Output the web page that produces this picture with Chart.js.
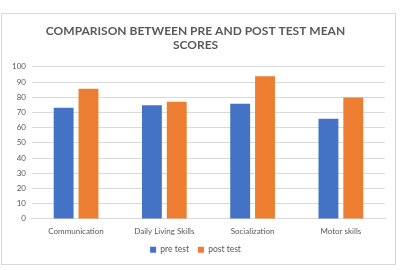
<!DOCTYPE html>
<html>
<head>
<meta charset="utf-8">
<script src="https://cdn.jsdelivr.net/npm/chart.js@4"></script>
<style>
  html, body { margin: 0; padding: 0; background: #fff; }
  #box { position: absolute; left: 1px; top: 13px; width: 393px; height: 250px; border: 1px solid #d9d9d9; }
</style>
</head>
<body>
<div id="box"><canvas id="chart"></canvas></div>
<script>
const categories = ['Communication', 'Daily Living Skills', 'Socialization', 'Motor skills'];
const preTest = [73, 74.8, 75.7, 65.8];
const postTest = [85.5, 77, 93.8, 79.8];

const ctx = document.getElementById('chart').getContext('2d');
new Chart(ctx, {
  type: 'bar',
  data: {
    labels: categories,
    datasets: [
      { label: 'pre test', data: preTest, backgroundColor: '#4472C4', categoryPercentage: 0.563, barPercentage: 0.8 },
      { label: 'post test', data: postTest, backgroundColor: '#ED7D31', categoryPercentage: 0.563, barPercentage: 0.8 }
    ]
  },
  options: {
    responsive: true,
    maintainAspectRatio: false,
    animation: false,
    layout: { padding: { left: 4, right: 10, top: 6, bottom: 0 } },
    plugins: {
      title: {
        display: true,
        text: ['COMPARISON BETWEEN PRE AND POST TEST MEAN', 'SCORES'],
        color: '#595959',
        font: { family: 'Lato', size: 12, weight: 'bold' },
        padding: { top: 4, bottom: 14 },
        lineHeight: 1.4
      },
      legend: {
        position: 'bottom',
        labels: {
          color: '#595959',
          font: { family: 'Lato', size: 8.5 },
          boxWidth: 6, boxHeight: 6,
          padding: 9
        }
      },
      tooltip: { enabled: false }
    },
    scales: {
      x: {
        grid: { display: false },
        border: { color: '#d9d9d9' },
        ticks: { color: '#595959', font: { family: 'Lato', size: 8 }, padding: 0 }
      },
      y: {
        min: 0, max: 100,
        ticks: { stepSize: 10, color: '#595959', font: { family: 'Lato', size: 8 }, padding: 6 },
        grid: { color: '#d9d9d9', drawTicks: false },
        border: { display: false }
      }
    }
  }
});
</script>
</body>
</html>
